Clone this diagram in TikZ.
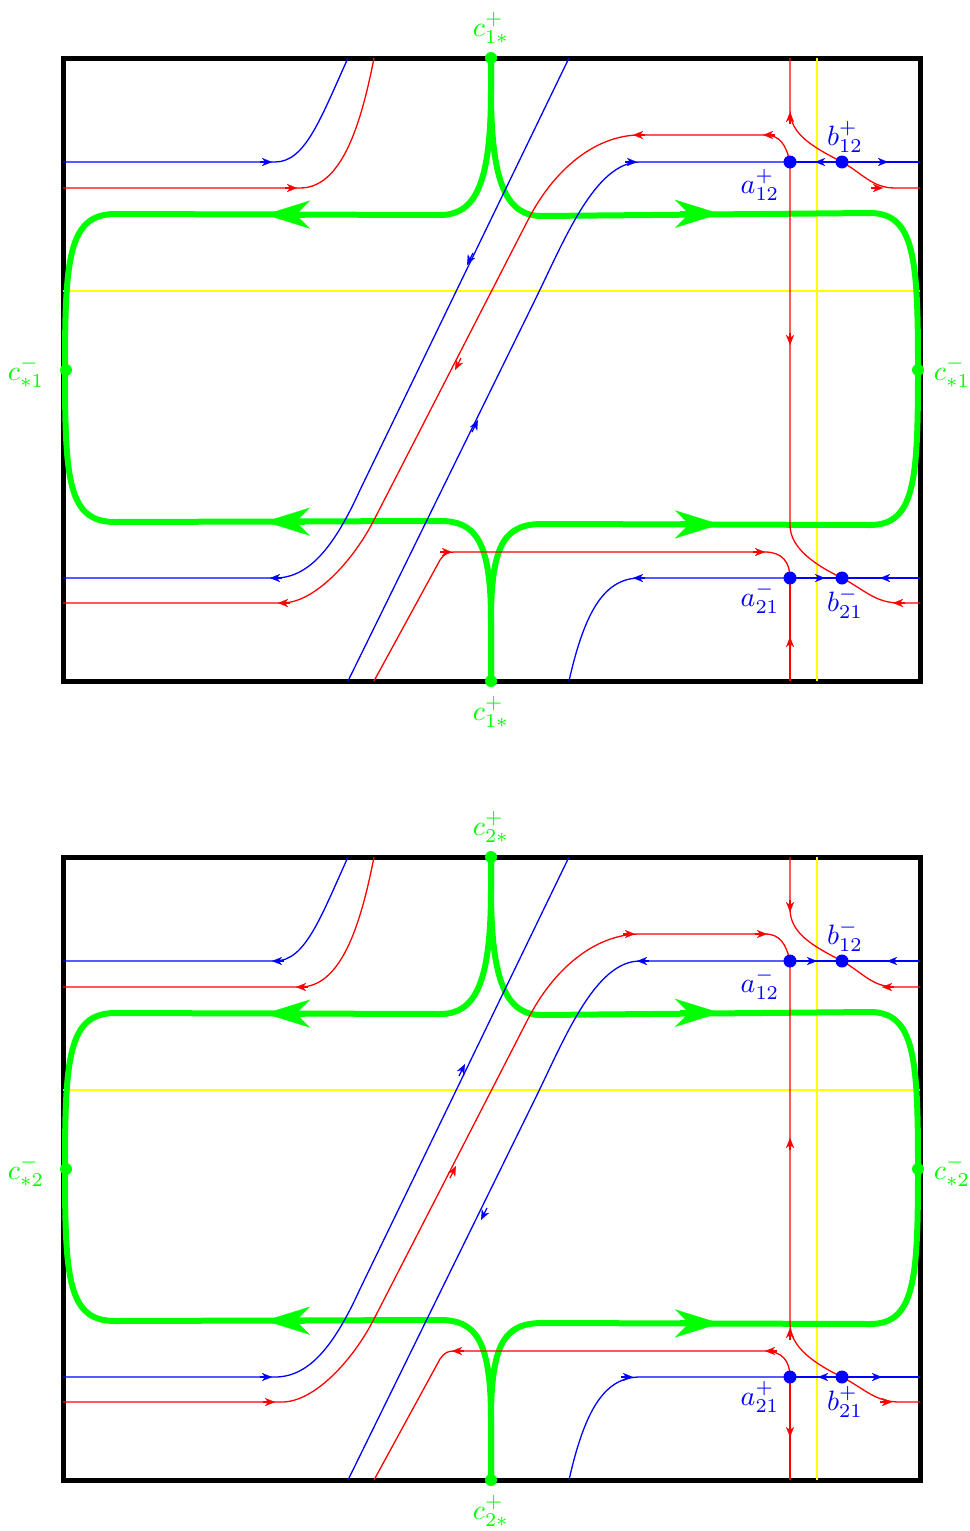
\documentclass[tikz,border=0pt]{standalone}
\usetikzlibrary{arrows.meta}
\definecolor{gr}{RGB}{0,255,0}
\definecolor{bb}{RGB}{0,0,255}
\definecolor{rr}{RGB}{255,0,0}
\definecolor{yl}{RGB}{255,255,0}
\tikzset{
  frame/.style={draw=black, line width=5pt},
  yel/.style={draw=yl, line width=2pt},
  gl/.style={draw=gr, line width=6pt, line join=round},
  bl/.style={draw=bb, line width=1.3pt},
  rl/.style={draw=rr, line width=1.3pt},
  lbl/.style={inner sep=0pt},
  glbl/.style={lbl, text=gr},
  blbl/.style={lbl, text=bb},
}
\newcommand\lab[1]{\scalebox{2.8}{$#1$}}
\newcommand\tipb[3]{\draw[#1,{Stealth[length=10pt,width=8pt,inset=3pt,line width=0.1pt]}-] (#2) -- ++(#3);}
\newcommand\gtip[2]{\draw[gl,{Stealth[length=45pt,width=28pt,inset=14pt,line width=0.1pt]}-] (#1) -- ++(#2);}
\newcommand\panelbody{%
  \draw[frame] (63,58) rectangle (920,681);
  \draw[yel] (817,58) -- (817,681);
  \draw[yel] (63,291) -- (920,291);
  % green separatrices
  \draw[gl] (65,370) .. controls (65,260) and (68,214) .. (115,214) -- (440,215) .. controls (475,215) and (491,185) .. (491,90) -- (491,58);
  \draw[gl] (491,58) -- (491,90) .. controls (491,185) and (507,216) .. (542,216) -- (870,213) .. controls (915,213) and (918,260) .. (918,370);
  \draw[gl] (65,370) .. controls (65,480) and (68,522) .. (115,522) -- (440,521) .. controls (475,521) and (491,540) .. (491,620) -- (491,681);
  \draw[gl] (491,681) -- (491,620) .. controls (491,540) and (507,524) .. (543,524) -- (870,525) .. controls (915,525) and (918,480) .. (918,370);
  \gtip{265,214.6}{40,0}
  \gtip{720,213.8}{-40,0}
  \gtip{265,521.7}{40,0}
  \gtip{720,524.4}{-40,0}
  % top-left
  \draw[bl] (63,162) -- (275,162) .. controls (305,162) and (320,120) .. (348,58);
  \draw[rl] (63,188) -- (300,188) .. controls (340,188) and (360,130) .. (374,58);
  % diagonal blue 1
  \draw[bl] (569,58) -- (360,490) .. controls (335,545) and (310,578) .. (275,578) -- (63,578);
  % diagonal red
  \draw[rl] (790,162) .. controls (786,145) and (780,135) .. (765,135) -- (640,135) .. controls (595,135) and (553.5,170) .. (528,220) -- (374,520) .. controls (353.6,560) and (315,603) .. (282,603) -- (63,603);
  % diagonal blue 2
  \draw[bl] (348,681) -- (535,300) .. controls (564.4,240) and (595,162) .. (640,162) -- (790,162);
  % red from bottom
  \draw[rl] (374,681) -- (440,560) .. controls (445,553) and (448,552) .. (455,552) -- (765,552) .. controls (782,552) and (790,562) .. (790,578);
  % blue from bottom right
  \draw[bl] (569,681) .. controls (585,610) and (605,578) .. (640,578) -- (790,578);
  % right side
  \draw[rl] (790,58) -- (790,110) .. controls (790,135) and (815,148) .. (842,162) .. controls (862,173) and (872,188) .. (895,188) -- (920,188);
  \draw[rl] (790,162) -- (790,525) .. controls (790,548) and (815,565) .. (842,578) .. controls (865,590) and (875,603) .. (900,603) -- (920,603);
  \draw[rl] (790,578) -- (790,681);
  \draw[bl] (790,162) -- (920,162);
  \draw[bl] (790,578) -- (920,578);
}
\newcommand\paneldots{%
  \fill[gr] (491,58) circle[radius=6pt];
  \fill[gr] (491,681) circle[radius=6pt];
  \fill[gr] (66,370) circle[radius=6pt];
  \fill[gr] (918,370) circle[radius=6pt];
  \fill[bb] (790,162) circle[radius=6.5pt];
  \fill[bb] (842,162) circle[radius=6.5pt];
  \fill[bb] (790,578) circle[radius=6.5pt];
  \fill[bb] (842,578) circle[radius=6.5pt];
}
\begin{document}
\begin{tikzpicture}[x=1pt,y=-1pt]
\useasboundingbox (0,0) rectangle (969,1531);
% ---------------- top panel
\begin{scope}
  \panelbody
  \tipb{bl}{272,162}{-12,0}
  \tipb{rl}{297,188}{-12,0}
  \tipb{bl}{270,578}{12,0}
  \tipb{rl}{278,603}{12,0}
  \tipb{bl}{467,265}{6,-12}
  \tipb{rl}{455,370}{6,-12}
  \tipb{bl}{478,420}{-6,12}
  \tipb{bl}{637,162}{-12,0}
  \tipb{rl}{633,135}{12,0}
  \tipb{rl}{763,135}{12,0}
  \tipb{rl}{790,112}{0,12}
  \tipb{bl}{815,162}{12,0}
  \tipb{bl}{888,162}{-12,0}
  \tipb{rl}{883,188}{-12,0}
  \tipb{rl}{790,345}{0,-12}
  \tipb{rl}{452,552}{-12,0}
  \tipb{rl}{765,552}{-12,0}
  \tipb{bl}{633,578}{12,0}
  \tipb{bl}{825,578}{-12,0}
  \tipb{bl}{880,578}{12,0}
  \tipb{rl}{893,603}{12,0}
  \tipb{rl}{790,637}{0,12}
  \paneldots
  \node[glbl] (c1top) at (491,28) {\lab{c_{1*}^+}};
  \node[glbl] (c1bot) at (491,712) {\lab{c_{1*}^+}};
  \node[glbl] (c1left) at (26,372) {\lab{c_{*1}^-}};
  \node[glbl] (c1right) at (952,372) {\lab{c_{*1}^-}};
  \node[blbl] (a12p) at (760,185) {\lab{a_{12}^+}};
  \node[blbl] (b12p) at (845,137) {\lab{b_{12}^+}};
  \node[blbl] (a21m) at (760,598) {\lab{a_{21}^-}};
  \node[blbl] (b21m) at (845,603) {\lab{b_{21}^-}};
\end{scope}
% ---------------- bottom panel
\begin{scope}[shift={(0,799)}]
  \panelbody
  \tipb{bl}{272,162}{12,0}
  \tipb{rl}{296,188}{12,0}
  \tipb{bl}{272,578}{-12,0}
  \tipb{rl}{275,603}{-12,0}
  \tipb{bl}{465,265}{-6,12}
  \tipb{rl}{456,367}{-6,12}
  \tipb{bl}{481,421}{6,-12}
  \tipb{bl}{637,162}{12,0}
  \tipb{rl}{635,135}{-12,0}
  \tipb{rl}{767,135}{-12,0}
  \tipb{rl}{790,113}{0,-12}
  \tipb{bl}{817,162}{-12,0}
  \tipb{bl}{887,162}{12,0}
  \tipb{rl}{882,188}{12,0}
  \tipb{rl}{790,339}{0,12}
  \tipb{rl}{790,529}{0,12}
  \tipb{rl}{452,552}{12,0}
  \tipb{rl}{765,552}{12,0}
  \tipb{bl}{633,578}{-12,0}
  \tipb{bl}{818,578}{12,0}
  \tipb{bl}{882,578}{-12,0}
  \tipb{rl}{892,603}{-12,0}
  \tipb{rl}{790,638}{0,-12}
  \paneldots
  \node[glbl] (c2top) at (491,28) {\lab{c_{2*}^+}};
  \node[glbl] (c2bot) at (491,712) {\lab{c_{2*}^+}};
  \node[glbl] (c2left) at (26,372) {\lab{c_{*2}^-}};
  \node[glbl] (c2right) at (952,372) {\lab{c_{*2}^-}};
  \node[blbl] (a12m) at (760,185) {\lab{a_{12}^-}};
  \node[blbl] (b12m) at (845,137) {\lab{b_{12}^-}};
  \node[blbl] (a21p) at (760,598) {\lab{a_{21}^+}};
  \node[blbl] (b21p) at (845,603) {\lab{b_{21}^+}};
\end{scope}
\end{tikzpicture}
\end{document}
